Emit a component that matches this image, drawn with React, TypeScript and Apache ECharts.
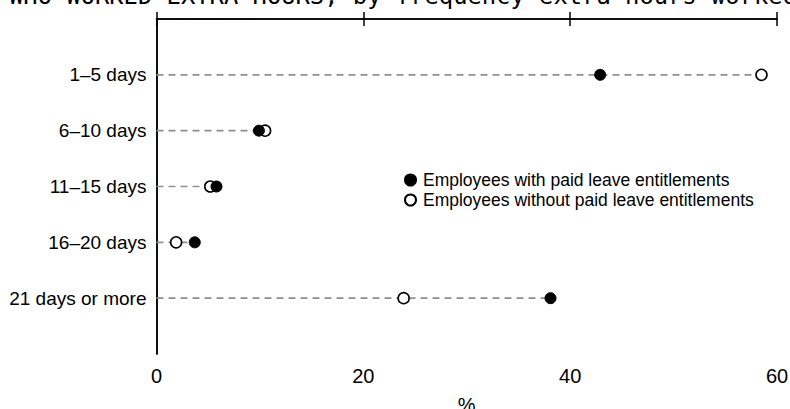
import React, { useEffect, useRef } from "react";
import * as echarts from "echarts";

const categories = ["1–5 days", "6–10 days", "11–15 days", "16–20 days", "21 days or more"];
const withPaidLeave = [42.9, 9.9, 5.8, 3.7, 38.1];
const withoutPaidLeave = [58.5, 10.5, 5.2, 1.9, 23.9];
const xTicks = [0, 20, 40, 60];
const seriesNames = ["Employees with paid leave entitlements", "Employees without paid leave entitlements"];
const titleText = "WHO WORKED EXTRA HOURS, by frequency extra hours worked";

export default function App() {
  const ref = useRef<HTMLDivElement>(null);
  useEffect(() => {
    const chart = echarts.init(ref.current!, null, { renderer: "svg" });
    const font = "'Liberation Sans', Arial, sans-serif";
    const xMin = xTicks[0];
    const xMax = xTicks[xTicks.length - 1];
    const xInterval = xTicks[1] - xTicks[0];
    const lineData = categories.map((_, i) => [Math.max(withPaidLeave[i], withoutPaidLeave[i]), i + 1]);
    chart.setOption({
      animation: false,
      backgroundColor: "#fff",
      textStyle: { fontFamily: font, color: "#000" },
      grid: { left: 156.5, right: 13, top: 19, bottom: 55, containLabel: false, outerBoundsMode: "none" },
      graphic: [
        {
          type: "text",
          left: 9,
          top: -16,
          style: {
            text: titleText,
            fontFamily: "'DejaVu Sans Mono', monospace",
            fontSize: 23.8,
            fill: "#000",
          },
        },
      ],
      legend: {
        orient: "vertical",
        left: 399,
        top: 166,
        data: seriesNames,
        icon: "circle",
        itemWidth: 11,
        itemHeight: 11,
        itemGap: 2,
        textStyle: { fontSize: 17.5, color: "#000", fontFamily: font, padding: [0, 0, 0, 2] },
      },
      xAxis: [
        {
          type: "value",
          position: "bottom",
          min: xMin,
          max: xMax,
          interval: xInterval,
          name: "%",
          nameLocation: "middle",
          nameGap: 41,
          nameTextStyle: { fontSize: 20, color: "#000", fontFamily: font },
          axisLine: { show: true, lineStyle: { color: "#000", width: 1.5 } },
          axisTick: { show: true, length: 7, lineStyle: { color: "#000", width: 1.5 } },
          axisLabel: { fontSize: 20, color: "#000", margin: 12, fontFamily: font },
          splitLine: { show: false },
        },
        {
          type: "value",
          position: "top",
          min: xMin,
          max: xMax,
          interval: xInterval,
          axisLine: { show: true, lineStyle: { color: "#000", width: 1.5 } },
          axisTick: { show: true, length: 7, lineStyle: { color: "#000", width: 1.5 } },
          axisLabel: { show: false },
          splitLine: { show: false },
        },
      ],
      yAxis: [
        {
          type: "value",
          position: "left",
          inverse: true,
          min: 0,
          max: categories.length + 1,
          interval: 1,
          axisLine: { show: true, lineStyle: { color: "#000", width: 1.5 } },
          axisTick: { show: false },
          splitLine: { show: false },
          axisLabel: {
            fontSize: 19,
            color: "#000",
            margin: 10,
            fontFamily: font,
            formatter: (v: number) => (v >= 1 && v <= categories.length ? categories[v - 1] : ""),
          },
        },
        {
          type: "value",
          position: "right",
          inverse: true,
          min: 0,
          max: categories.length + 1,
          interval: 1,
          axisLine: { show: true, lineStyle: { color: "#000", width: 1.5 } },
          axisTick: { show: false },
          axisLabel: { show: false },
          splitLine: { show: false },
        },
      ],
      series: [
        {
          type: "custom",
          name: "guides",
          xAxisIndex: 0,
          yAxisIndex: 0,
          silent: true,
          data: lineData,
          renderItem: (params: any, api: any) => {
            const p0 = api.coord([0, api.value(1)]);
            const p1 = api.coord([api.value(0), api.value(1)]);
            return {
              type: "line",
              shape: { x1: p0[0], y1: p0[1], x2: p1[0], y2: p1[1] },
              style: { stroke: "#8f8f8f", lineWidth: 1.6, lineDash: [7, 5] },
            };
          },
          z: 1,
        },
        {
          type: "scatter",
          name: seriesNames[1],
          xAxisIndex: 0,
          yAxisIndex: 0,
          symbol: "circle",
          symbolSize: 11,
          itemStyle: { color: "#fff", borderColor: "#000", borderWidth: 1.6, opacity: 1 },
          data: withoutPaidLeave.map((v, i) => [v, i + 1]),
          z: 2,
        },
        {
          type: "scatter",
          name: seriesNames[0],
          xAxisIndex: 0,
          yAxisIndex: 0,
          symbol: "circle",
          symbolSize: 11,
          itemStyle: { color: "#000", borderColor: "#000", borderWidth: 1, opacity: 1 },
          data: withPaidLeave.map((v, i) => [v, i + 1]),
          z: 3,
        },
      ],
    });
    return () => chart.dispose();
  }, []);
  return (
    <div
      ref={ref}
      style={{ position: "fixed", left: 0, top: 0, width: 790, height: 409 }}
    />
  );
}
